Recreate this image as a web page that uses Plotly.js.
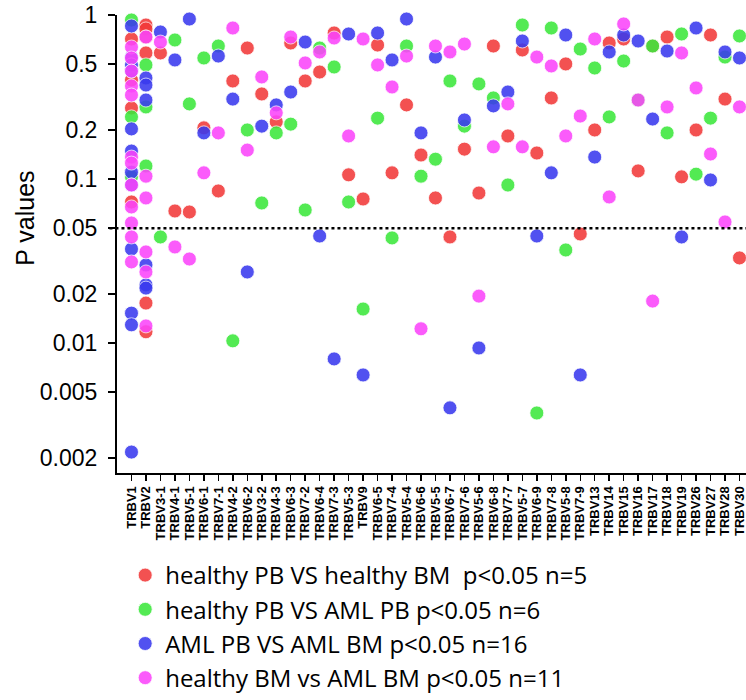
<!DOCTYPE html>
<html>
<head>
<meta charset="utf-8">
<script src="https://cdn.plot.ly/plotly-3.0.1.min.js"></script>
<style>html,body{margin:0;padding:0;background:#fff;}#chart{width:746px;height:700px;}</style>
</head>
<body>
<div id="chart"></div>
<script>
// Categories (x axis)
const categories = ["TRBV1","TRBV2","TRBV3-1","TRBV4-1","TRBV5-1","TRBV6-1","TRBV7-1","TRBV4-2","TRBV6-2","TRBV3-2",
  "TRBV4-3","TRBV6-3","TRBV7-2","TRBV6-4","TRBV7-3","TRBV5-3","TRBV9","TRBV6-5","TRBV7-4","TRBV5-4",
  "TRBV6-6","TRBV5-5","TRBV6-7","TRBV7-6","TRBV5-6","TRBV6-8","TRBV7-7","TRBV5-7","TRBV6-9","TRBV7-8",
  "TRBV5-8","TRBV7-9","TRBV13","TRBV14","TRBV15","TRBV16","TRBV17","TRBV18","TRBV19","TRBV26",
  "TRBV27","TRBV28","TRBV30"];

const seriesNames = [
  "healthy PB VS healthy BM  p<0.05 n=5",
  "healthy PB VS AML PB p<0.05 n=6",
  "AML PB VS AML BM p<0.05 n=16",
  "healthy BM vs AML BM p<0.05 n=11"
];

// healthy PB VS healthy BM (red)
const redTRBV1 = [0.714, 0.402, 0.271, 0.0724];
const redTRBV2 = [0.869, 0.822, 0.734, 0.587, 0.0175, 0.0117];
const redRest = [0.587, 0.0638, 0.0629, 0.205, 0.0845, 0.396, 0.629, 0.330, 0.223, 0.675,
  0.396, 0.449, 0.777, 0.106, 0.0755, 0.656, 0.109, 0.283, 0.140, 0.0766,
  0.0443, 0.152, 0.0821, 0.647, 0.183, 0.612, 0.144, 0.312, 0.503, 0.0462,
  0.199, 0.675, 0.714, 0.112, 0.647, 0.734, 0.103, 0.199, 0.755, 0.307, 0.0330];

// healthy PB VS AML PB (green)
const greenTRBV1 = [0.932, 0.239, 0.103];
const greenTRBV2 = [0.496, 0.275, 0.120];
const greenRest = [0.0443, 0.704, 0.287, 0.547, 0.647, 0.0103, 0.199, 0.0714, 0.191, 0.216,
  0.0647, 0.629, 0.482, 0.0724, 0.0161, 0.235, 0.0437, 0.647, 0.104, 0.132,
  0.396, 0.210, 0.380, 0.312, 0.0919, 0.869, 0.00374, 0.833, 0.0369, 0.620,
  0.475, 0.239, 0.524, 0.303, 0.647, 0.191, 0.766, 0.107, 0.235, 0.554, 0.745];

// AML PB VS AML BM (blue)
const blueTRBV1 = [0.857, 0.554, 0.496, 0.455, 0.202, 0.148, 0.110, 0.0919, 0.0374, 0.0152, 0.0129, 0.00216];
const blueTRBV2 = [0.413, 0.374, 0.303, 0.0299, 0.0226, 0.0216];
const blueRest = [0.788, 0.532, 0.945, 0.191, 0.562, 0.307, 0.0271, 0.210, 0.283, 0.339,
  0.684, 0.0449, 0.00799, 0.766, 0.00638, 0.777, 0.532, 0.945, 0.191, 0.554,
  0.00402, 0.229, 0.00932, 0.279, 0.339, 0.694, 0.0449, 0.109, 0.755, 0.00638,
  0.136, 0.595, 0.755, 0.694, 0.232, 0.603, 0.0443, 0.833, 0.0986, 0.595, 0.547];

// healthy BM vs AML BM (magenta)
const magentaTRBV1 = [0.638, 0.547, 0.455, 0.369, 0.325, 0.136, 0.125, 0.0919, 0.0675, 0.0539, 0.0443, 0.0312];
const magentaTRBV2 = [0.734, 0.104, 0.0766, 0.0359, 0.0271, 0.0127];
const magentaRest = [0.684, 0.0385, 0.0325, 0.109, 0.191, 0.833, 0.150, 0.419, 0.253, 0.734,
  0.510, 0.595, 0.724, 0.183, 0.714, 0.496, 0.364, 0.562, 0.0122, 0.647,
  0.595, 0.665, 0.0193, 0.157, 0.287, 0.157, 0.554, 0.489, 0.183, 0.242,
  0.714, 0.0777, 0.882, 0.303, 0.0180, 0.275, 0.587, 0.359, 0.142, 0.0547, 0.275];

const yTickVals = [0.002, 0.005, 0.01, 0.02, 0.05, 0.1, 0.2, 0.5, 1];
const yTickText = ["0.002", "0.005", "0.01", "0.02", "0.05", "0.1", "0.2", "0.5", "1"];
const threshold = 0.05;

const colors = ["#f23a3a", "#3ce83c", "#3a3aee", "#fb45fb"];

function build(v1, v2, rest) {
  const x = [].concat(v1.map(() => categories[0]), v2.map(() => categories[1]), categories.slice(2));
  const y = [].concat(v1, v2, rest);
  return {x, y};
}
const groups = [
  build(redTRBV1, redTRBV2, redRest),
  build(greenTRBV1, greenTRBV2, greenRest),
  build(blueTRBV1, blueTRBV2, blueRest),
  build(magentaTRBV1, magentaTRBV2, magentaRest)
];

const traces = groups.map((g, i) => ({
  type: "scatter", mode: "markers", x: g.x, y: g.y, name: seriesNames[i],
  cliponaxis: false,
  marker: {size: 14, color: colors[i], opacity: 0.88, line: {color: "rgba(255,255,255,0.8)", width: 1}}
}));

const layout = {
  width: 746, height: 700,
  margin: {l: 117, r: 0, t: 15, b: 227},
  paper_bgcolor: "#fff", plot_bgcolor: "#fff",
  showlegend: true,
  font: {family: "Liberation Sans, Arial, sans-serif", color: "#000"},
  xaxis: {
    type: "category", categoryorder: "array", categoryarray: categories,
    tickmode: "array", tickvals: categories, ticktext: categories,
    range: [-1.0, 42.45],
    showline: true, linecolor: "#000", linewidth: 2,
    ticks: "outside", ticklen: 6, tickwidth: 1.5, tickcolor: "#000",
    tickangle: -90, tickfont: {size: 13, weight: "bold", family: "Liberation Sans, Arial, sans-serif"},
    showgrid: false, zeroline: false, fixedrange: true
  },
  yaxis: {
    type: "log", range: [Math.log10(0.00161), 0],
    tickvals: yTickVals, ticktext: yTickText,
    showline: true, linecolor: "#000", linewidth: 2,
    ticks: "outside", ticklen: 7, tickwidth: 2, tickcolor: "#000",
    tickfont: {size: 23}, ticklabelstandoff: 6,
    showgrid: false, zeroline: false, fixedrange: true
  },
  shapes: [{
    type: "line", xref: "paper", yref: "y", x0: -0.012, x1: 1, y0: threshold, y1: threshold,
    line: {color: "#000", width: 2.5, dash: "dot"}
  }],
  annotations: [{
    text: "P values", xref: "paper", yref: "paper", x: (25 - 117) / 629, y: 0.555,
    xanchor: "center", yanchor: "middle", textangle: -90, showarrow: false,
    font: {size: 25}
  }],
  legend: {
    x: 0.013, y: -0.175, xanchor: "left", yanchor: "top",
    font: {size: 24, family: "Open Sans, sans-serif"},
    bgcolor: "rgba(0,0,0,0)", borderwidth: 0, tracegroupgap: 0
  }
};

Plotly.newPlot("chart", traces, layout, {displayModeBar: false, staticPlot: true});
</script>
</body>
</html>
